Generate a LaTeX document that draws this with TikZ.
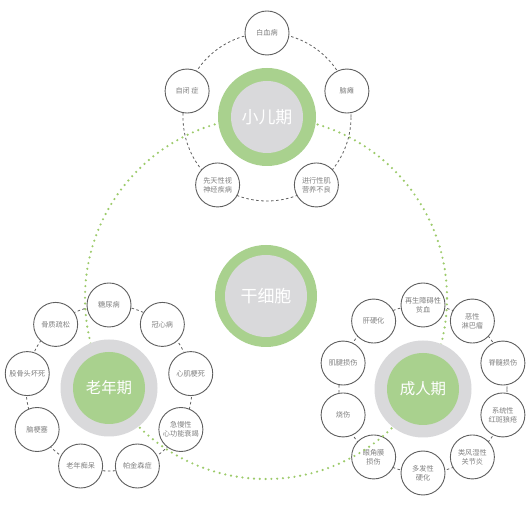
\documentclass[tikz,border=0pt]{standalone}
\usepackage{fontspec}
\newfontfamily\cjk{Noto Sans CJK SC}
\definecolor{ringgreen}{HTML}{A9D18E}
\definecolor{dotgreen}{HTML}{9CCB6A}
\definecolor{ringgray}{HTML}{D9D9DB}
\definecolor{linegray}{HTML}{5F5F5F}
\definecolor{textgray}{HTML}{808080}
\tikzset{
  sat/.style={circle, draw=linegray, line width=0.9bp, fill=white, minimum size=44bp, inner sep=0pt,
    align=center, text=textgray, font=\cjk\fontsize{7.2}{9.3}\selectfont},
  satring/.style={draw=linegray, line width=0.8bp, dash pattern=on 2.5bp off 2.5bp},
  bigdots/.style={draw=dotgreen, line width=2.4bp, line cap=round, dash pattern=on 0bp off 5.8bp},
  disc/.style={circle, inner sep=0pt, draw=none},
  lab/.style={text=white, font=\cjk\fontsize{#1}{#1}\selectfont},
}
\begin{document}
\begin{tikzpicture}[x=1bp,y=1bp]
\useasboundingbox (0,0) rectangle (530,508);
\fill[white] (0,0) rectangle (530,508);
% group centres
\coordinate (kid) at (267,391);
\coordinate (old) at (109,120);
\coordinate (adult) at (423,119);
\coordinate (stem) at (266,212);
\coordinate (big) at (266,210);
% satellite rings
\draw[satring] (kid) circle[radius=84];
\draw[satring] (old) circle[radius=83];
\draw[satring] (adult) circle[radius=84];
% satellites: childhood
\foreach \t/\a [count=\i] in {{白血病}/90, {脑瘫}/18, {进行性肌\\营养不良}/-54, {先天性视\\神经疾病}/-126, {自闭 症}/162}
  \node[sat] (k\i) at ([shift={(\a:84)}]kid) {\t};
% satellites: old age
\foreach \t/\a [count=\i] in {{糖尿病}/90, {冠心病}/50, {心肌梗死}/10, {急慢性\\心功能衰竭}/-30, {帕金森症}/-70, {老年痴呆}/-110, {脑梗塞}/-150, {股骨头坏死}/170, {骨质疏松}/130}
  \node[sat] (o\i) at ([shift={(\a:83)}]old) {\t};
% satellites: adulthood
\foreach \t/\a [count=\i] in {{再生障碍性\\贫血}/90, {恶性\\淋巴瘤}/54, {脊髓损伤}/18, {系统性\\红斑狼疮}/-18, {类风湿性\\关节炎}/-54, {多发性\\硬化}/-90, {眼角膜\\损伤}/-126, {烧伤}/-162, {肌腱损伤}/162, {肝硬化}/126}
  \node[sat] (a\i) at ([shift={(\a:84)}]adult) {\t};
% big dotted circle
\draw[bigdots] (big) circle[radius=181];
% main discs
\node[disc, fill=ringgreen, minimum size=98bp] (kidout) at (kid) {};
\node[disc, fill=ringgray, minimum size=72bp] (kidin) at (kid) {};
\node[lab=17] (kidlab) at (kid) {小儿期};
\node[disc, fill=ringgray, minimum size=97bp] (oldout) at (old) {};
\node[disc, fill=ringgreen, minimum size=72bp] (oldin) at (old) {};
\node[lab=15.5] (oldlab) at (old) {老年期};
\node[disc, fill=ringgray, minimum size=97bp] (adultout) at (adult) {};
\node[disc, fill=ringgreen, minimum size=72bp] (adultin) at (adult) {};
\node[lab=15.5] (adultlab) at (adult) {成人期};
\node[disc, fill=ringgreen, minimum size=102bp] (stemout) at (stem) {};
\node[disc, fill=ringgray, minimum size=82bp] (stemin) at (stem) {};
\node[lab=17] (stemlab) at (stem) {干细胞};
\end{tikzpicture}
\end{document}
